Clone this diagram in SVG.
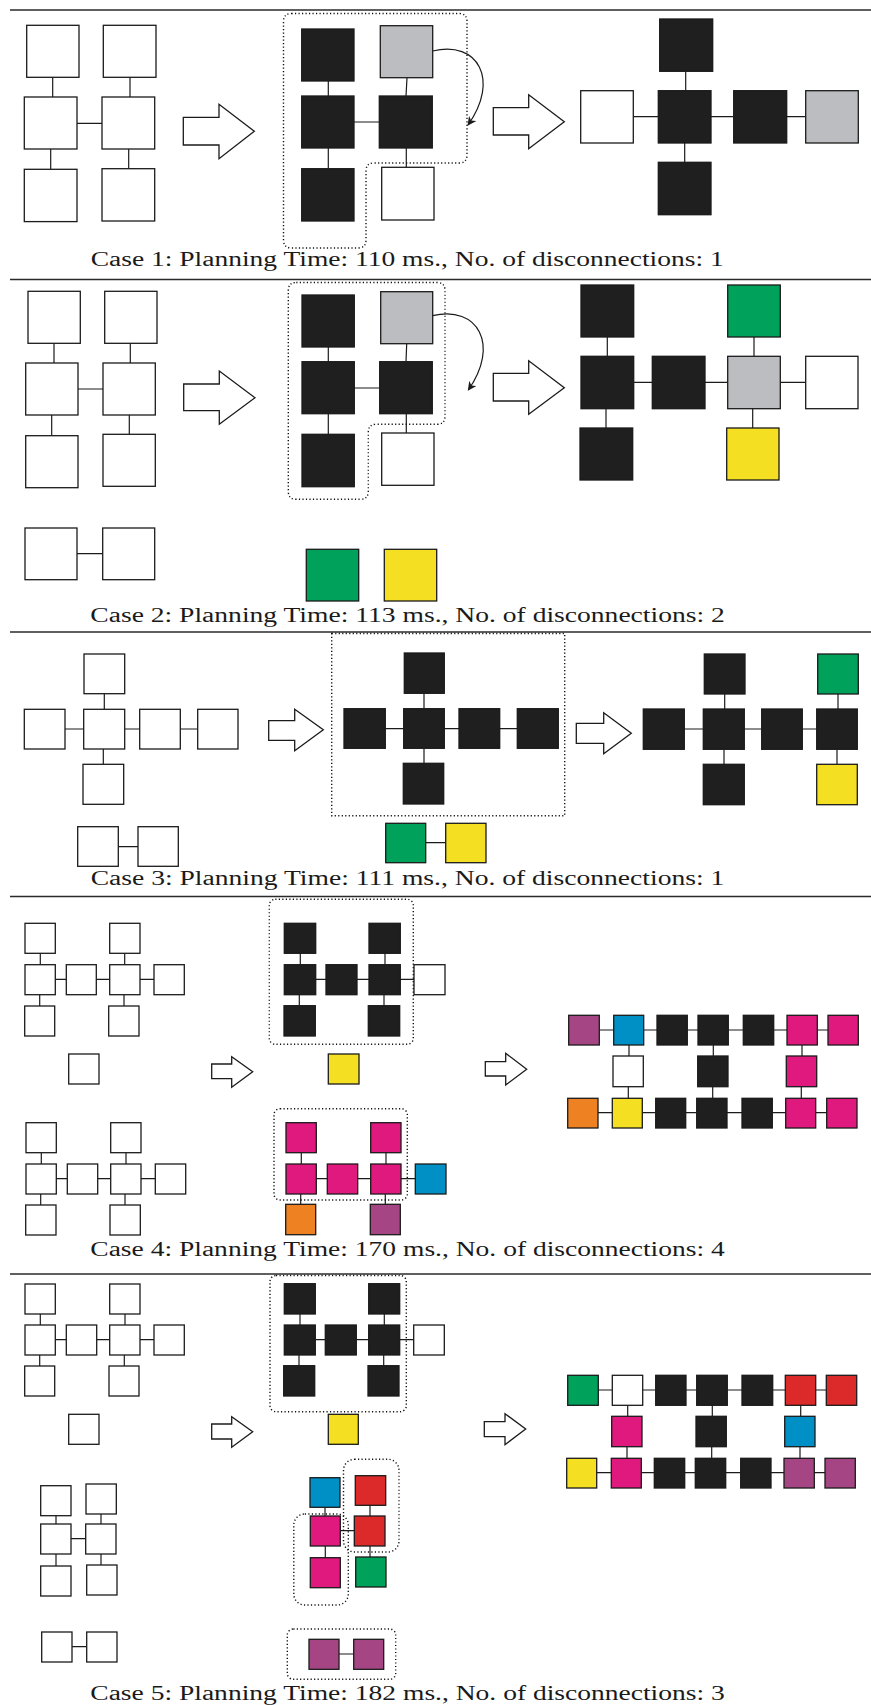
<svg xmlns="http://www.w3.org/2000/svg" width="871" height="1705" viewBox="0 0 871 1705">
<style>
rect.n{stroke:#1b1b1b;stroke-width:1.3}
.w{fill:#ffffff}.k{fill:#1f1f1f}.g{fill:#bcbdc0}.gr{fill:#00a15b}.y{fill:#f4df23}
.m{fill:#e0197e}.b{fill:#0090c6}.o{fill:#ee8222}.p{fill:#a64584}.r{fill:#dc2a2a}
.ln path{fill:none;stroke:#1b1b1b;stroke-width:1.2}
.dot{fill:none;stroke:#111;stroke-width:1.4;stroke-dasharray:1.2 2.3}
.big{fill:#fff;stroke:#1b1b1b;stroke-width:1.3;stroke-linejoin:miter}
.rule{stroke:#2a2a2a;stroke-width:1.4}
.cap{font-size:20px;fill:#1a1a1a}
.curve{fill:none;stroke:#1b1b1b;stroke-width:1.2}
</style>
<defs>
<marker id="ah" viewBox="0 0 10 10" refX="9" refY="5" markerWidth="9" markerHeight="9" markerUnits="userSpaceOnUse" orient="auto"><path d="M0,0 L10,5 L0,10 L3,5 Z" fill="#1b1b1b"/></marker>
</defs>
<rect width="871" height="1705" fill="#fff"/>
<g id="rules">
<line class="rule" x1="10" y1="10" x2="871" y2="10" style="stroke-width:1.6"/>
<line class="rule" x1="10" y1="279.5" x2="871" y2="279.5"/>
<line class="rule" x1="10" y1="632" x2="871" y2="632"/>
<line class="rule" x1="10" y1="896.5" x2="871" y2="896.5"/>
<line class="rule" x1="10" y1="1274" x2="871" y2="1274"/>
</g>
<g id="connectors" class="ln">
<path d="M52.7 77.3V97M130 77.3V97M77 123.3H102M50.7 149V169.3M128.7 149V168.7"/>
<path d="M328.3 81V96M328.3 148V168.7M354 122H379.3M407 77.7L406 96M406.3 148V167.3"/>
<path d="M685.7 71.3V90.7M684.7 143V162.3M633.3 116.7H658.3M711 116.7H733.7M786.7 116.7H805.7"/>
<path d="M54 343.3V363M130.3 343.3V363M78 389H103M51.7 415V435.7M129.3 415V434.3M77 553.7H102.7"/>
<path d="M328.3 347V361.7M328.3 413.7V434.3M354.3 388H379.7M406.7 343.7L406 361.7M406.3 413.7V433"/>
<path d="M607.3 337V356.3M606 408.7V428M633.7 382.3H652.3M705 382.3H727.7M780.3 382.3H805.7M754 337V356.3M752.7 408.7V428"/>
<path d="M104.3 693.7V709.3M65 729H83.7M124.7 729H139.7M180.3 729H197.7M103.3 749V764.3M118.3 846.7H138"/>
<path d="M424 693.3V708.7M424 748.3V763.3M385.3 728.7H403.7M444.3 728.7H459M499.7 728.7H517.3M425.7 842.7H445.7"/>
<path d="M724.7 694V709M724 749.3V764.3M684.3 729H703.3M744.3 729H761.7M802.3 729H816.7M838 694V709M837 749.3V764.3"/>
<path d="M40.3 953.3V964.7M124.7 953.3V964.7M55.3 979.3H66.3M96.3 979.3H109.7M140 979.3H154M39.7 994.7V1006M124 994.7V1006"/>
<path d="M41.3 1152.7V1164M126 1152.7V1164M56.3 1178.7H67.3M97.7 1178.7H110.7M141 1178.7H155.3M40.7 1194V1205M125 1194V1205"/>
<path d="M300.3 953.3V964.7M385 953.3V964.7M315.7 979.3H326M357 979.3H369M400.3 979.3H414M299.3 994.7V1005.7M384 994.7V1005.7"/>
<path d="M301.3 1152.7V1164M386 1152.7V1164M316.3 1178.7H327.3M357.7 1178.7H370.7M401 1178.7H415.3M300.7 1194V1204.3M385.3 1194V1204.3"/>
<path d="M599.3 1030H613.7M643.7 1030H657M687.3 1030H698M728.3 1030H743.3M773.7 1030H787M817.3 1030H828"/>
<path d="M598 1112.7H612.3M642.3 1112.7H655.7M685.7 1112.7H696.7M727 1112.7H742M772.3 1112.7H785.7M815.7 1112.7H826.7"/>
<path d="M629 1045V1056M628.3 1086.7V1098.3M713.3 1045V1056M712.7 1086.7V1098.3M802 1045V1056M801.3 1086.7V1098.3"/>
<path d="M40.3 1314V1325M125 1314V1325M55.3 1339.7H66.3M96.7 1339.7H109.7M140 1339.7H154M39.7 1355V1366M124.3 1355V1366"/>
<path d="M56 1515.7V1524M101 1514V1524M71 1538.7H85.7M56 1554V1566M101 1554V1565M72 1646.7H86.7"/>
<path d="M300 1314V1325M384.3 1314V1325M315.3 1339.7H325.3M356.3 1339.7H368.7M399.7 1339.7H413.7M299 1355V1365.7M383.7 1355V1365.7"/>
<path d="M325 1507.3V1516M370 1505.3V1516M340.3 1530.7H354.3M325.3 1546V1557.7M370 1546V1557M339 1654H353.7"/>
<path d="M598.3 1390H612.3M642.7 1390H655.7M686 1390H696.7M727.3 1390H742M772.7 1390H785.3M815.7 1390H826.3"/>
<path d="M596.7 1472.7H611.3M641.3 1472.7H654.3M684.7 1472.7H695.3M725.7 1472.7H740.7M771 1472.7H784M814.3 1472.7H825"/>
<path d="M627.7 1405.3V1416.3M627 1446.7V1458.3M712.3 1405.3V1416.3M711.7 1446.7V1458.3M800.7 1405.3V1416.3M800 1446.7V1458.3"/>
<path class="curve" d="M432.7 51 C478 40, 500 80, 468 125" marker-end="url(#ah)"/>
<path class="curve" d="M432.7 315.7 C478 305, 500 345, 468.3 390" marker-end="url(#ah)"/>
</g>
<g id="groupings">
<path class="dot" d="M291.5 13.5H459Q467 13.5 467 21.5V155Q467 163 459 163H374Q366 163 366 171V240Q366 248 358 248H291.5Q283.5 248 283.5 240V21.5Q283.5 13.5 291.5 13.5Z"/>
<path class="dot" d="M296.3 282.5H437Q445 282.5 445 290.5V416.3Q445 424.3 437 424.3H376.3Q368.3 424.3 368.3 432.3V491.3Q368.3 499.3 360.3 499.3H296.3Q288.3 499.3 288.3 491.3V290.5Q288.3 282.5 296.3 282.5Z"/>
<rect class="dot" x="331.7" y="633.5" width="233" height="182.2"/>
<rect class="dot" x="269.3" y="899.3" width="144" height="145" rx="6"/>
<rect class="dot" x="274" y="1108.7" width="133.3" height="91.3" rx="6"/>
<rect class="dot" x="270" y="1275.5" width="136.3" height="136.2" rx="6"/>
<rect class="dot" x="293.8" y="1514" width="54.5" height="91" rx="11"/>
<rect class="dot" x="343.5" y="1459.3" width="55.5" height="92.7" rx="11"/>
<rect class="dot" x="287.3" y="1629" width="108.4" height="50.3" rx="6"/>
</g>
<g id="transitions">
<polygon class="big" points="183.3,117.3 219,117.3 219,104.3 254.3,131.3 219,158.7 219,145 183.3,145"/>
<polygon class="big" points="493.3,107.7 528.7,107.7 528.7,94.7 564.3,121.7 528.7,148.7 528.7,135 493.3,135"/>
<polygon class="big" points="183.7,384 219.3,384 219.3,371 255,397.7 219.3,424.3 219.3,410.7 183.7,410.7"/>
<polygon class="big" points="493.3,373.3 528.7,373.3 528.7,360.7 564.3,387.7 528.7,414.3 528.7,401 493.3,401"/>
<polygon class="big" points="268.7,720.7 294.7,720.7 294.7,709.3 323.3,729.7 294.7,750.7 294.7,740.3 268.7,740.3"/>
<polygon class="big" points="576.3,723.3 603.7,723.3 603.7,712.7 631.3,733.3 603.7,753.7 603.7,743.3 576.3,743.3"/>
<polygon class="big" points="211.7,1064 231.7,1064 231.7,1056.7 252.7,1071.7 231.7,1087.3 231.7,1078.7 211.7,1078.7"/>
<polygon class="big" points="485.3,1061.7 505.7,1061.7 505.7,1053.3 526.7,1069.3 505.7,1085 505.7,1076 485.3,1076"/>
<polygon class="big" points="211.7,1424 231.7,1424 231.7,1416.7 252.7,1431.7 231.7,1447.3 231.7,1439 211.7,1439"/>
<polygon class="big" points="484.3,1421.7 505,1421.7 505,1413.7 525.7,1429 505,1444.7 505,1436.7 484.3,1436.7"/>
</g>
<g id="c1-L1"><rect class="n w" x="26.7" y="25.3" width="52.3" height="52"/></g>
<g id="c1-L2"><rect class="n w" x="103.3" y="25.3" width="52.7" height="52"/></g>
<g id="c1-L3"><rect class="n w" x="24.3" y="97" width="52.7" height="52"/></g>
<g id="c1-L4"><rect class="n w" x="102" y="97" width="52.7" height="52"/></g>
<g id="c1-L5"><rect class="n w" x="24.3" y="169.3" width="52.7" height="52.3"/></g>
<g id="c1-L6"><rect class="n w" x="102" y="168.7" width="52.7" height="52.3"/></g>
<g id="c1-M1"><rect class="n k" x="301.7" y="29" width="52.3" height="52"/></g>
<g id="c1-M2"><rect class="n g" x="380.3" y="25.7" width="52.4" height="52"/></g>
<g id="c1-M3"><rect class="n k" x="301.7" y="96" width="52.3" height="52"/></g>
<g id="c1-M4"><rect class="n k" x="379.3" y="96" width="53" height="52"/></g>
<g id="c1-M5"><rect class="n k" x="301.7" y="168.7" width="52.3" height="52.3"/></g>
<g id="c1-M6"><rect class="n w" x="381.7" y="167.3" width="52.3" height="52.7"/></g>
<g id="c1-R1"><rect class="n k" x="659.7" y="19" width="53" height="52.3"/></g>
<g id="c1-R2"><rect class="n w" x="580.7" y="90.7" width="52.6" height="52.3"/></g>
<g id="c1-R3"><rect class="n k" x="658.3" y="90.7" width="52.7" height="52.3"/></g>
<g id="c1-R4"><rect class="n k" x="733.7" y="90.7" width="53" height="52.3"/></g>
<g id="c1-R5"><rect class="n g" x="805.7" y="90.7" width="52.6" height="52.3"/></g>
<g id="c1-R6"><rect class="n k" x="658.3" y="162.3" width="52.7" height="52.4"/></g>
<g id="c2-L1"><rect class="n w" x="28" y="291.3" width="52.3" height="52"/></g>
<g id="c2-L2"><rect class="n w" x="104.7" y="291.3" width="52.3" height="52"/></g>
<g id="c2-L3"><rect class="n w" x="25.7" y="363" width="52.3" height="52"/></g>
<g id="c2-L4"><rect class="n w" x="103" y="363" width="52.3" height="52"/></g>
<g id="c2-L5"><rect class="n w" x="25.7" y="435.7" width="52.3" height="52"/></g>
<g id="c2-L6"><rect class="n w" x="103" y="434.3" width="52.3" height="52"/></g>
<g id="c2-L7"><rect class="n w" x="25" y="528" width="52" height="51.7"/></g>
<g id="c2-L8"><rect class="n w" x="102.7" y="528" width="52" height="51.7"/></g>
<g id="c2-M1"><rect class="n k" x="302" y="295" width="52.3" height="52"/></g>
<g id="c2-M2"><rect class="n g" x="380.7" y="291.7" width="52" height="52"/></g>
<g id="c2-M3"><rect class="n k" x="302" y="361.7" width="52.3" height="52"/></g>
<g id="c2-M4"><rect class="n k" x="379.7" y="361.7" width="52.6" height="52"/></g>
<g id="c2-M5"><rect class="n k" x="302" y="434.3" width="52.3" height="52.4"/></g>
<g id="c2-M6"><rect class="n w" x="381.7" y="433" width="52.3" height="52.3"/></g>
<g id="c2-M7"><rect class="n gr" x="306.3" y="549.3" width="52.4" height="51.7"/></g>
<g id="c2-M8"><rect class="n y" x="384.3" y="549.3" width="52.4" height="51.7"/></g>
<g id="c2-R1"><rect class="n k" x="581" y="285" width="52.7" height="52"/></g>
<g id="c2-R2"><rect class="n gr" x="727.7" y="285" width="52.6" height="52"/></g>
<g id="c2-R3"><rect class="n k" x="581" y="356.3" width="52.7" height="52.4"/></g>
<g id="c2-R4"><rect class="n k" x="652.3" y="356.3" width="52.7" height="52.4"/></g>
<g id="c2-R5"><rect class="n g" x="727.7" y="356.3" width="52.6" height="52.4"/></g>
<g id="c2-R6"><rect class="n w" x="805.7" y="356.3" width="52.3" height="52.4"/></g>
<g id="c2-R7"><rect class="n k" x="580" y="428" width="52.7" height="52"/></g>
<g id="c2-R8"><rect class="n y" x="726.7" y="428" width="52.3" height="52"/></g>
<g id="c3-L1"><rect class="n w" x="84" y="654" width="40.7" height="39.7"/></g>
<g id="c3-L2"><rect class="n w" x="24.3" y="709.3" width="40.7" height="39.7"/></g>
<g id="c3-L3"><rect class="n w" x="83.7" y="709.3" width="41" height="39.7"/></g>
<g id="c3-L4"><rect class="n w" x="139.7" y="709.3" width="40.6" height="39.7"/></g>
<g id="c3-L5"><rect class="n w" x="197.7" y="709.3" width="40.3" height="39.7"/></g>
<g id="c3-L6"><rect class="n w" x="83" y="764.3" width="40.7" height="40"/></g>
<g id="c3-L7"><rect class="n w" x="77.7" y="826.7" width="40.6" height="39.6"/></g>
<g id="c3-L8"><rect class="n w" x="138" y="826.7" width="40.3" height="39.6"/></g>
<g id="c3-M1"><rect class="n k" x="404.3" y="653" width="40" height="40.3"/></g>
<g id="c3-M2"><rect class="n k" x="344" y="708.7" width="41.3" height="39.6"/></g>
<g id="c3-M3"><rect class="n k" x="403.7" y="708.7" width="40.6" height="39.6"/></g>
<g id="c3-M4"><rect class="n k" x="459" y="708.7" width="40.7" height="39.6"/></g>
<g id="c3-M5"><rect class="n k" x="517.3" y="708.7" width="41" height="39.6"/></g>
<g id="c3-M6"><rect class="n k" x="403.3" y="763.3" width="40.4" height="40.7"/></g>
<g id="c3-M7"><rect class="n gr" x="385.7" y="823.3" width="40" height="39.4"/></g>
<g id="c3-M8"><rect class="n y" x="445.7" y="823.3" width="40.3" height="39.4"/></g>
<g id="c3-R1"><rect class="n k" x="704.3" y="654" width="40.7" height="40"/></g>
<g id="c3-R2"><rect class="n gr" x="817.7" y="654" width="40.6" height="40"/></g>
<g id="c3-R3"><rect class="n k" x="643.3" y="709" width="41" height="40.3"/></g>
<g id="c3-R4"><rect class="n k" x="703.3" y="709" width="41" height="40.3"/></g>
<g id="c3-R5"><rect class="n k" x="761.7" y="709" width="40.6" height="40.3"/></g>
<g id="c3-R6"><rect class="n k" x="816.7" y="709" width="40.6" height="40.3"/></g>
<g id="c3-R7"><rect class="n k" x="703.3" y="764.3" width="41" height="40.4"/></g>
<g id="c3-R8"><rect class="n y" x="816.7" y="764.3" width="40.6" height="40.4"/></g>
<g id="c4-A1"><rect class="n w" x="25" y="923.3" width="30.3" height="30"/></g>
<g id="c4-A2"><rect class="n w" x="109.7" y="923.3" width="30.3" height="30"/></g>
<g id="c4-A3"><rect class="n w" x="25" y="964.7" width="30.3" height="30"/></g>
<g id="c4-A4"><rect class="n w" x="66.3" y="964.7" width="30" height="30"/></g>
<g id="c4-A5"><rect class="n w" x="109.7" y="964.7" width="30.3" height="30"/></g>
<g id="c4-A6"><rect class="n w" x="154" y="964.7" width="30.3" height="30"/></g>
<g id="c4-A7"><rect class="n w" x="24.7" y="1006" width="30" height="30"/></g>
<g id="c4-A8"><rect class="n w" x="108.7" y="1006" width="30.3" height="30"/></g>
<g id="c4-A9"><rect class="n w" x="68.7" y="1054" width="30.3" height="30"/></g>
<g id="c4-B1"><rect class="n w" x="26" y="1122.7" width="30.3" height="30"/></g>
<g id="c4-B2"><rect class="n w" x="110.7" y="1122.7" width="30.3" height="30"/></g>
<g id="c4-B3"><rect class="n w" x="26" y="1164" width="30.3" height="30"/></g>
<g id="c4-B4"><rect class="n w" x="67.3" y="1164" width="30.4" height="30"/></g>
<g id="c4-B5"><rect class="n w" x="110.7" y="1164" width="30.3" height="30"/></g>
<g id="c4-B6"><rect class="n w" x="155.3" y="1164" width="30.4" height="30"/></g>
<g id="c4-B7"><rect class="n w" x="25.7" y="1205" width="30.3" height="30"/></g>
<g id="c4-B8"><rect class="n w" x="110" y="1205" width="30.3" height="30"/></g>
<g id="c4-C1"><rect class="n k" x="284.3" y="923.3" width="31.4" height="30"/></g>
<g id="c4-C2"><rect class="n k" x="369" y="923.3" width="31.3" height="30"/></g>
<g id="c4-C3"><rect class="n k" x="284.3" y="964.7" width="31.4" height="30"/></g>
<g id="c4-C4"><rect class="n k" x="326" y="964.7" width="31" height="30"/></g>
<g id="c4-C5"><rect class="n k" x="369" y="964.7" width="31.3" height="30"/></g>
<g id="c4-C6"><rect class="n w" x="414" y="964.7" width="31" height="30"/></g>
<g id="c4-C7"><rect class="n k" x="284" y="1005.7" width="31.3" height="30.3"/></g>
<g id="c4-C8"><rect class="n k" x="368.3" y="1005.7" width="31.4" height="30.3"/></g>
<g id="c4-C9"><rect class="n y" x="328.3" y="1054" width="30.7" height="30"/></g>
<g id="c4-D1"><rect class="n m" x="286" y="1122.7" width="30.3" height="30"/></g>
<g id="c4-D2"><rect class="n m" x="370.7" y="1122.7" width="30.3" height="30"/></g>
<g id="c4-D3"><rect class="n m" x="286" y="1164" width="30.3" height="30"/></g>
<g id="c4-D4"><rect class="n m" x="327.3" y="1164" width="30.4" height="30"/></g>
<g id="c4-D5"><rect class="n m" x="370.7" y="1164" width="30.3" height="30"/></g>
<g id="c4-D6"><rect class="n b" x="415.3" y="1164" width="30.7" height="30"/></g>
<g id="c4-D7"><rect class="n o" x="285.7" y="1204.3" width="30" height="30.4"/></g>
<g id="c4-D8"><rect class="n p" x="370.3" y="1204.3" width="30" height="30.4"/></g>
<g id="c4-R1"><rect class="n p" x="568.7" y="1015.3" width="30.6" height="29.7"/></g>
<g id="c4-R2"><rect class="n b" x="613.7" y="1015.3" width="30" height="29.7"/></g>
<g id="c4-R3"><rect class="n k" x="657" y="1015.3" width="30.3" height="29.7"/></g>
<g id="c4-R4"><rect class="n k" x="698" y="1015.3" width="30.3" height="29.7"/></g>
<g id="c4-R5"><rect class="n k" x="743.3" y="1015.3" width="30.4" height="29.7"/></g>
<g id="c4-R6"><rect class="n m" x="787" y="1015.3" width="30.3" height="29.7"/></g>
<g id="c4-R7"><rect class="n m" x="828" y="1015.3" width="30.3" height="29.7"/></g>
<g id="c4-R8"><rect class="n w" x="613" y="1056" width="30.3" height="30.7"/></g>
<g id="c4-R9"><rect class="n k" x="697.7" y="1056" width="30.3" height="30.7"/></g>
<g id="c4-R10"><rect class="n m" x="786.3" y="1056" width="30.4" height="30.7"/></g>
<g id="c4-R11"><rect class="n o" x="567.7" y="1098.3" width="30.3" height="29.7"/></g>
<g id="c4-R12"><rect class="n y" x="612.3" y="1098.3" width="30" height="29.7"/></g>
<g id="c4-R13"><rect class="n k" x="655.7" y="1098.3" width="30" height="29.7"/></g>
<g id="c4-R14"><rect class="n k" x="696.7" y="1098.3" width="30.3" height="29.7"/></g>
<g id="c4-R15"><rect class="n k" x="742" y="1098.3" width="30.3" height="29.7"/></g>
<g id="c4-R16"><rect class="n m" x="785.7" y="1098.3" width="30" height="29.7"/></g>
<g id="c4-R17"><rect class="n m" x="826.7" y="1098.3" width="30.3" height="29.7"/></g>
<g id="c5-A1"><rect class="n w" x="25" y="1284" width="30.3" height="30"/></g>
<g id="c5-A2"><rect class="n w" x="109.7" y="1284" width="30.3" height="30"/></g>
<g id="c5-A3"><rect class="n w" x="25" y="1325" width="30.3" height="30"/></g>
<g id="c5-A4"><rect class="n w" x="66.3" y="1325" width="30.4" height="30"/></g>
<g id="c5-A5"><rect class="n w" x="109.7" y="1325" width="30.3" height="30"/></g>
<g id="c5-A6"><rect class="n w" x="154" y="1325" width="30.3" height="30"/></g>
<g id="c5-A7"><rect class="n w" x="24.7" y="1366" width="30" height="30"/></g>
<g id="c5-A8"><rect class="n w" x="109" y="1366" width="30" height="30"/></g>
<g id="c5-A9"><rect class="n w" x="68.7" y="1414.3" width="30.3" height="30"/></g>
<g id="c5-B1"><rect class="n w" x="40.7" y="1485.7" width="30.3" height="30"/></g>
<g id="c5-B2"><rect class="n w" x="86" y="1484" width="30.3" height="30"/></g>
<g id="c5-B3"><rect class="n w" x="40.7" y="1524" width="30.3" height="30"/></g>
<g id="c5-B4"><rect class="n w" x="85.7" y="1524" width="30.3" height="30"/></g>
<g id="c5-B5"><rect class="n w" x="40.7" y="1566" width="30.3" height="30"/></g>
<g id="c5-B6"><rect class="n w" x="86.7" y="1565" width="30.3" height="30"/></g>
<g id="c5-B7"><rect class="n w" x="41.7" y="1632" width="30.3" height="30"/></g>
<g id="c5-B8"><rect class="n w" x="86.7" y="1632" width="30.3" height="30"/></g>
<g id="c5-C1"><rect class="n k" x="284.3" y="1283.7" width="31" height="30.3"/></g>
<g id="c5-C2"><rect class="n k" x="368.7" y="1283.7" width="31" height="30.3"/></g>
<g id="c5-C3"><rect class="n k" x="284.3" y="1325" width="31" height="30"/></g>
<g id="c5-C4"><rect class="n k" x="325.3" y="1325" width="31" height="30"/></g>
<g id="c5-C5"><rect class="n k" x="368.7" y="1325" width="31" height="30"/></g>
<g id="c5-C6"><rect class="n w" x="413.7" y="1325" width="30.6" height="30"/></g>
<g id="c5-C7"><rect class="n k" x="283.7" y="1365.7" width="31" height="30.3"/></g>
<g id="c5-C8"><rect class="n k" x="368" y="1365.7" width="31" height="30.3"/></g>
<g id="c5-C9"><rect class="n y" x="328.3" y="1414.3" width="30" height="30"/></g>
<g id="c5-D1"><rect class="n b" x="310" y="1477.7" width="30" height="29.6"/></g>
<g id="c5-D2"><rect class="n r" x="355.3" y="1475.7" width="30.4" height="29.6"/></g>
<g id="c5-D3"><rect class="n m" x="310.3" y="1516" width="30" height="30"/></g>
<g id="c5-D4"><rect class="n r" x="354.3" y="1516" width="30.7" height="30"/></g>
<g id="c5-D5"><rect class="n m" x="310.3" y="1557.7" width="30" height="30"/></g>
<g id="c5-D6"><rect class="n gr" x="355.7" y="1557" width="30.3" height="30"/></g>
<g id="c5-D7"><rect class="n p" x="309" y="1639.3" width="30" height="30"/></g>
<g id="c5-D8"><rect class="n p" x="353.7" y="1639.3" width="30" height="30"/></g>
<g id="c5-R1"><rect class="n gr" x="567.7" y="1375.3" width="30.6" height="30"/></g>
<g id="c5-R2"><rect class="n w" x="612.3" y="1375.3" width="30.4" height="30"/></g>
<g id="c5-R3"><rect class="n k" x="655.7" y="1375.3" width="30.3" height="30"/></g>
<g id="c5-R4"><rect class="n k" x="696.7" y="1375.3" width="30.6" height="30"/></g>
<g id="c5-R5"><rect class="n k" x="742" y="1375.3" width="30.7" height="30"/></g>
<g id="c5-R6"><rect class="n r" x="785.3" y="1375.3" width="30.4" height="30"/></g>
<g id="c5-R7"><rect class="n r" x="826.3" y="1375.3" width="30.4" height="30"/></g>
<g id="c5-R8"><rect class="n m" x="611.7" y="1416.3" width="30.3" height="30.4"/></g>
<g id="c5-R9"><rect class="n k" x="696" y="1416.3" width="30.3" height="30.4"/></g>
<g id="c5-R10"><rect class="n b" x="784.7" y="1416.3" width="30.3" height="30.4"/></g>
<g id="c5-R11"><rect class="n y" x="566.7" y="1458.3" width="30" height="29.7"/></g>
<g id="c5-R12"><rect class="n m" x="611.3" y="1458.3" width="30" height="29.7"/></g>
<g id="c5-R13"><rect class="n k" x="654.3" y="1458.3" width="30.4" height="29.7"/></g>
<g id="c5-R14"><rect class="n k" x="695.3" y="1458.3" width="30.4" height="29.7"/></g>
<g id="c5-R15"><rect class="n k" x="740.7" y="1458.3" width="30.3" height="29.7"/></g>
<g id="c5-R16"><rect class="n p" x="784" y="1458.3" width="30.3" height="29.7"/></g>
<g id="c5-R17"><rect class="n p" x="825" y="1458.3" width="30.3" height="29.7"/></g>
<g id="captions" font-family="'Liberation Serif', 'Times New Roman', Times, serif">
<text class="cap" x="90.7" y="265.7" textLength="633" lengthAdjust="spacingAndGlyphs">Case 1: Planning Time: 110 ms., No. of disconnections: 1</text>
<text class="cap" x="90.3" y="621.5" textLength="634.5" lengthAdjust="spacingAndGlyphs">Case 2: Planning Time: 113 ms., No. of disconnections: 2</text>
<text class="cap" x="90.7" y="885" textLength="633.6" lengthAdjust="spacingAndGlyphs">Case 3: Planning Time: 111 ms., No. of disconnections: 1</text>
<text class="cap" x="90.3" y="1255.5" textLength="634.5" lengthAdjust="spacingAndGlyphs">Case 4: Planning Time: 170 ms., No. of disconnections: 4</text>
<text class="cap" x="90.3" y="1699.5" textLength="634.5" lengthAdjust="spacingAndGlyphs">Case 5: Planning Time: 182 ms., No. of disconnections: 3</text>
</g>
</svg>
